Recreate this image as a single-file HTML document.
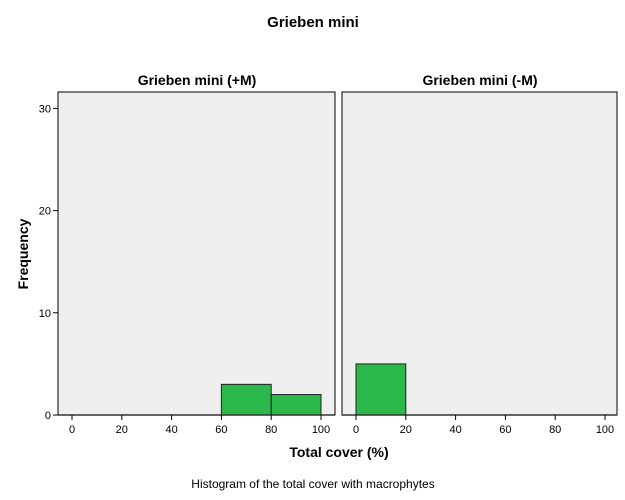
<!DOCTYPE html>
<html><head><meta charset="utf-8"><style>
body{margin:0;background:#fff;}
svg{display:block;font-family:"Liberation Sans",Arial,sans-serif;}
</style></head><body>
<svg id="c" width="625" height="500">
<text x="313" y="27" text-anchor="middle" font-size="15" font-weight="bold">Grieben mini</text>
<text x="197" y="85" text-anchor="middle" font-size="14" font-weight="bold">Grieben mini (+M)</text>
<text x="480" y="85" text-anchor="middle" font-size="14" font-weight="bold">Grieben mini (-M)</text>
<text x="28" y="254" text-anchor="middle" font-size="14" font-weight="bold" transform="rotate(-90 28 254)">Frequency</text>
<text x="339" y="457" text-anchor="middle" font-size="14" font-weight="bold">Total cover (%)</text>
<text x="313" y="488" text-anchor="middle" font-size="12">Histogram of the total cover with macrophytes</text>
</svg>
<script>
const panels=["+M","-M"];
const binStarts=[0,20,40,60,80];
const countsPlus=[0,0,0,3,2];
const countsMinus=[5,0,0,0,0];
const xTicks=[0,20,40,60,80,100];
const yTicks=[0,10,20,30];
const svgEl=document.getElementById('c');
const NS='http://www.w3.org/2000/svg';
function mk(t,a,p){const e=document.createElementNS(NS,t);for(const k in a)e.setAttribute(k,a[k]);(p||svgEl).appendChild(e);return e;}
const panelX=[{l:58,r:335,x0:72},{l:342,r:617,x0:356}];
const panelTop=92,y0=415,pxPerUnit=10.22,pxPerX=2.49;
const yS=v=>y0-v*pxPerUnit;
panelX.forEach((p,i)=>{
  const xS=v=>p.x0+v*pxPerX;
  const bg=mk('rect',{x:p.l,y:panelTop,width:p.r-p.l,height:y0-panelTop,fill:'#efefef',stroke:'#000','stroke-width':1});
  
  
  const counts=i?countsMinus:countsPlus;
  binStarts.forEach((b,j)=>{
    if(counts[j]<=0)return;
    const r=mk('rect',{x:xS(b),y:yS(counts[j]),width:xS(b+20)-xS(b),height:y0-yS(counts[j]),fill:'#2db84b',stroke:'#222','stroke-width':1});
    
    
  });
  mk('line',{x1:p.l,x2:p.r,y1:y0,y2:y0,stroke:'#333','stroke-width':1.5});
  xTicks.forEach(t=>{
    mk('line',{x1:xS(t),x2:xS(t),y1:y0,y2:y0+5,stroke:'#000'});
    const tx=mk('text',{x:xS(t),y:y0+18,'text-anchor':'middle','font-size':11});
    tx.textContent=t;
    
    
  });
});
yTicks.forEach(t=>{
  mk('line',{x1:53,x2:58,y1:yS(t),y2:yS(t),stroke:'#000'});
  const tx=mk('text',{x:51,y:yS(t)+4,'text-anchor':'end','font-size':11});
  tx.textContent=t;
  
  
});
</script>
</body></html>
